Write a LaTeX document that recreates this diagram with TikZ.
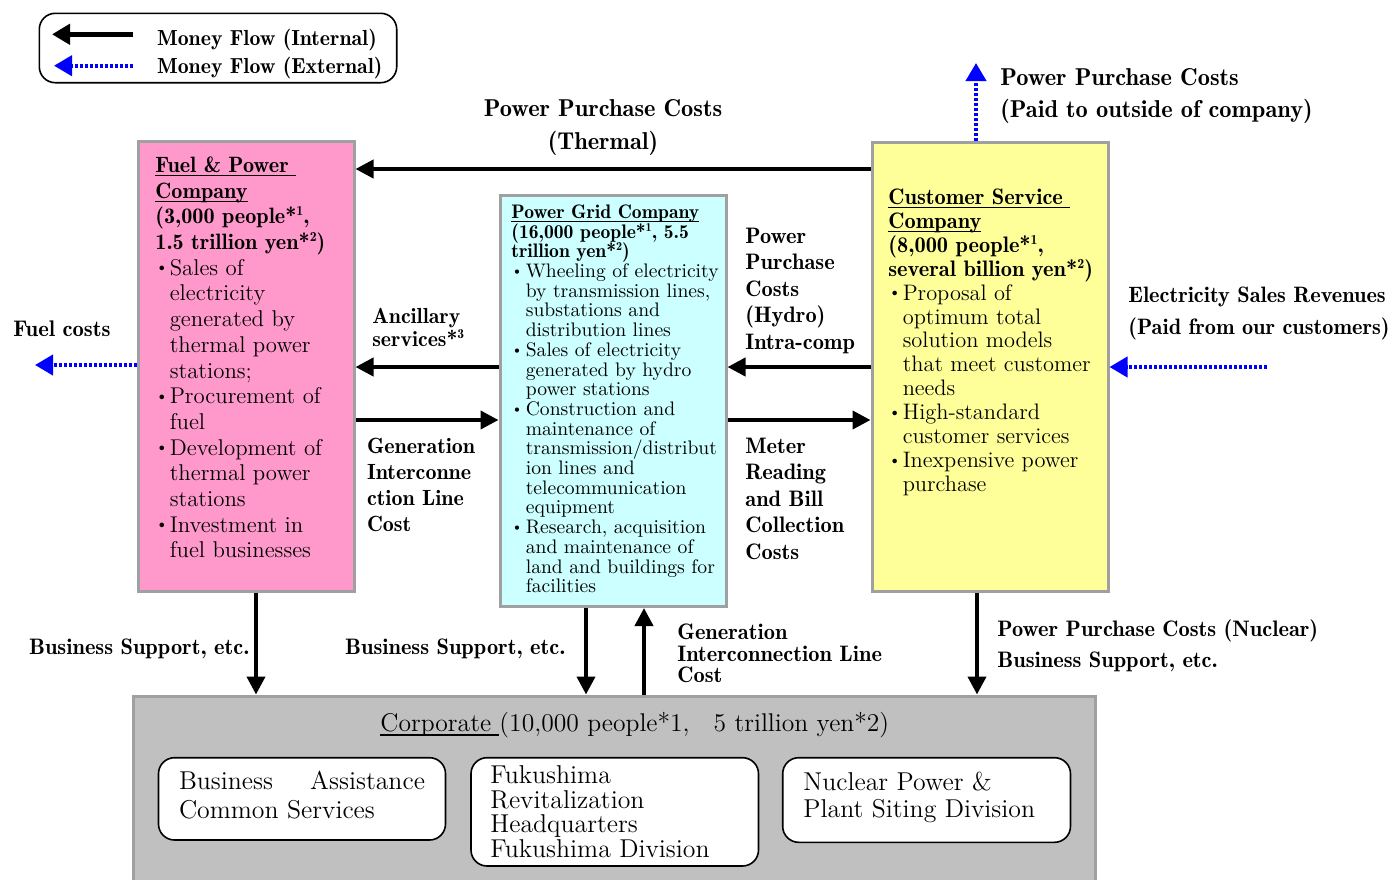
\documentclass[tikz,border=0pt]{standalone}
\usepackage{fontspec}
\usepackage{graphicx}
\newfontfamily\demi{lmromandemi10-regular.otf}
\usetikzlibrary{arrows.meta}
\definecolor{pinkfill}{HTML}{FF99CC}
\definecolor{cyanfill}{HTML}{CCFFFF}
\definecolor{yellowfill}{HTML}{FFFF99}
\definecolor{corpgray}{HTML}{C0C0C0}
\definecolor{bordergray}{HTML}{A0A0A0}
\definecolor{extblue}{HTML}{0000FF}
\newcommand\fs[2]{\fontsize{#1}{#2}\selectfont}
\newcommand\bul{\makebox[7.2pt][l]{\raisebox{0.1em}{\scalebox{0.75}{\textbullet}}}}
\newcommand\ind{\hspace*{7.2pt}}
\newcommand\sups[1]{\smash{\raisebox{0.36em}{\scalebox{0.62}{#1}}}}
\newsavebox\ulbox
\newcommand\ul[1]{\sbox\ulbox{#1}\rlap{\smash{\rule[-0.17em]{\wd\ulbox}{0.06em}}}\usebox\ulbox}
\begin{document}
\begin{tikzpicture}[x=0.5pt,y=-0.5pt,
  cobox/.style={draw=bordergray, line width=1.5pt, inner sep=0pt},
  subbox/.style={draw=black, line width=0.8pt, rounded corners=8pt, fill=white, inner sep=0pt},
  iarrow/.style={line width=2pt, -{Triangle[length=9pt,width=9pt]}},
  earrow/.style={draw=extblue, line width=2pt, dash pattern=on 1.5pt off 1pt, -{Triangle[length=9pt,width=10pt]}},
  txt/.style={anchor=north west, align=left, inner sep=0pt}]
\clip (0,0) rectangle (1392,879);
\fill[white] (0,0) rectangle (1392,879);

% legend
\node[draw, rounded corners=8pt, line width=0.8pt, minimum width=178.7pt, minimum height=34.7pt, inner sep=0pt] (legend) at (218,48) {};
\coordinate (l1a) at (133,34.3);
\coordinate (l1b) at (52,34.3);
\coordinate (l2a) at (133,65.7);
\coordinate (l2b) at (54,65.7);
\draw[line width=2.5pt, -{Triangle[length=9pt,width=10pt]}] (l1a) -- (l1b);
\draw[earrow] (l2a) -- (l2b);
\node[txt, font=\demi\fs{10.9}{13.7}] (legtxt) at (156.7,29) {\vphantom{(}Money Flow (Internal)\\Money Flow (External)};

% company boxes
\node[cobox, fill=pinkfill, minimum width=108pt, minimum height=225pt] (fuel) at (246,366) {};
\node[cobox, fill=cyanfill, minimum width=113pt, minimum height=205.75pt] (grid) at (613,400.75) {};
\node[cobox, fill=yellowfill, minimum width=118pt, minimum height=224.5pt] (cust) at (990,367) {};
\node[cobox, fill=corpgray, minimum width=481pt, minimum height=102pt] (corp) at (614,798) {};

\node[subbox, minimum width=143.5pt, minimum height=41.15pt] (sub1) at (302,798.85) {};
\node[subbox, minimum width=143.75pt, minimum height=54.15pt] (sub2) at (614.75,811.85) {};
\node[subbox, minimum width=143.9pt, minimum height=42.3pt] (sub3) at (926.6,800) {};

% box texts
\node[txt, font=\fs{11.4}{12.85}] (fueltxt) at (155,155.4) {%
{\demi\fs{11.1}{12.85}\vphantom{(}\ul{Fuel \& Power\ }}\\
{\demi\fs{11.1}{12.85}\ul{Company}}\\
{\demi\fs{11.1}{12.85}(3,000 people*\sups{1},}\\
{\demi\fs{11.1}{12.85}1.5 trillion yen*\sups{2})}\\
\bul Sales of\\ \ind electricity\\ \ind generated by\\ \ind thermal power\\ \ind stations;\\
\bul Procurement of\\ \ind fuel\\
\bul Development of\\ \ind thermal power\\ \ind stations\\
\bul Investment in\\ \ind fuel businesses};

\node[txt, font=\fs{9.8}{9.85}] (gridtxt) at (511,203.3) {%
{\demi\vphantom{(}\ul{Power Grid Company}}\\
{\demi (16,000 people*\sups{1}, 5.5}\\
{\demi trillion yen*\sups{2})}\\
\bul Wheeling of electricity\\ \ind by transmission lines,\\ \ind substations and\\ \ind distribution lines\\
\bul Sales of electricity\\ \ind generated by hydro\\ \ind power stations\\
\bul Construction and\\ \ind maintenance of\\ \ind transmission/distribut\\ \ind ion lines and\\ \ind telecommunication\\ \ind equipment\\
\bul Research, acquisition\\ \ind and maintenance of\\ \ind land and buildings for\\ \ind facilities};

\node[txt, font=\fs{11.2}{11.95}] (custtxt) at (888,187.3) {%
{\demi\vphantom{(}\ul{Customer Service\ }}\\
{\demi\ul{Company}}\\
{\demi (8,000 people*\sups{1},}\\
{\demi several billion yen*\sups{2})}\\
\bul Proposal of\\ \ind optimum total\\ \ind solution models\\ \ind that meet customer\\ \ind needs\\
\bul High-standard\\ \ind customer services\\
\bul Inexpensive power\\ \ind purchase};

\node[txt, font=\fs{12.8}{14}] (corptxt) at (380,712) {\vphantom{(}\ul{Corporate\ }(10,000 people*1,\hspace{12pt}5 trillion yen*2)};
\node[txt, font=\fs{12.9}{14.65}] (sub1txt) at (178.6,769.8) {\vphantom{(}\makebox[123pt][l]{Business\hfill Assistance}\\Common Services};
\node[txt, font=\fs{12.9}{12.3}] (sub2txt) at (490,764) {\vphantom{(}Fukushima\\Revitalization\\Headquarters\\Fukushima Division};
\node[txt, font=\fs{12.9}{13.3}] (sub3txt) at (803,770.7) {\vphantom{(}Nuclear Power \&\\Plant Siting Division};

% internal arrows
\draw[iarrow] (cust.west |- 0,169) -- (fuel.east |- 0,169);
\draw[iarrow] (grid.west |- 0,367) -- (fuel.east |- 0,367);
\draw[iarrow] (fuel.east |- 0,420) -- (grid.west |- 0,420);
\draw[iarrow] (cust.west |- 0,367) -- (grid.east |- 0,367);
\draw[iarrow] (grid.east |- 0,420) -- (cust.west |- 0,420);
\draw[iarrow] (256,0 |- fuel.south) -- (256,0 |- corp.north);
\draw[iarrow] (586,0 |- grid.south) -- (586,0 |- corp.north);
\draw[iarrow] (644,0 |- corp.north) -- (644,0 |- grid.south);
\draw[iarrow] (977,0 |- cust.south) -- (977,0 |- corp.north);

% external arrows
\coordinate (fcend) at (35,365);
\coordinate (esstart) at (1267,367);
\coordinate (ppend) at (976,63);
\draw[earrow] (fuel.west |- fcend) -- (fcend);
\draw[earrow] (esstart) -- (cust.east |- esstart);
\draw[earrow] (ppend |- cust.north) -- (ppend);

% labels
\node[txt, anchor=north, align=center, font=\demi\fs{12.2}{16.5}] (thermlbl) at (603,99.5) {Power Purchase Costs\\(Thermal)};
\node[txt, font=\demi\fs{12.2}{15.8}] (extlbl) at (1000,68.5) {Power Purchase Costs\\(Paid to outside of company)};
\node[txt, font=\demi\fs{11.3}{13}] (fuellbl) at (13,320.5) {Fuel costs};
\node[txt, font=\demi\fs{11.15}{15.8}] (elbl) at (1128,287) {Electricity Sales Revenues\\(Paid from our customers)};
\node[txt, font=\demi\fs{10.9}{11.7}] (anclbl) at (372,307.4) {Ancillary\\services*\sups{3}};
\node[txt, font=\demi\fs{11}{13}] (genlbl) at (366.7,437.4) {Generation\\Interconne\\ction Line\\Cost};
\node[txt, font=\demi\fs{11.2}{13.3}] (hydlbl) at (745,227.3) {Power\\Purchase\\Costs\\(Hydro)\\Intra-comp};
\node[txt, font=\demi\fs{11.2}{13.3}] (meterlbl) at (745,437.3) {Meter\\Reading\\and Bill\\Collection\\Costs};
\node[txt, anchor=north east, font=\demi\fs{11.2}{13}] (bs1) at (250,638.6) {Business Support, etc.};
\node[txt, anchor=north east, font=\demi\fs{11.2}{13}] (bs2) at (566,638.6) {Business Support, etc.};
\node[txt, font=\demi\fs{11.2}{10.75}] (gen2lbl) at (677,623.9) {Generation\\Interconnection Line\\Cost};
\node[txt, font=\demi\fs{11.2}{15.85}] (nuclbl) at (997,618.8) {Power Purchase Costs (Nuclear)\\Business Support, etc.};
\end{tikzpicture}
\end{document}
